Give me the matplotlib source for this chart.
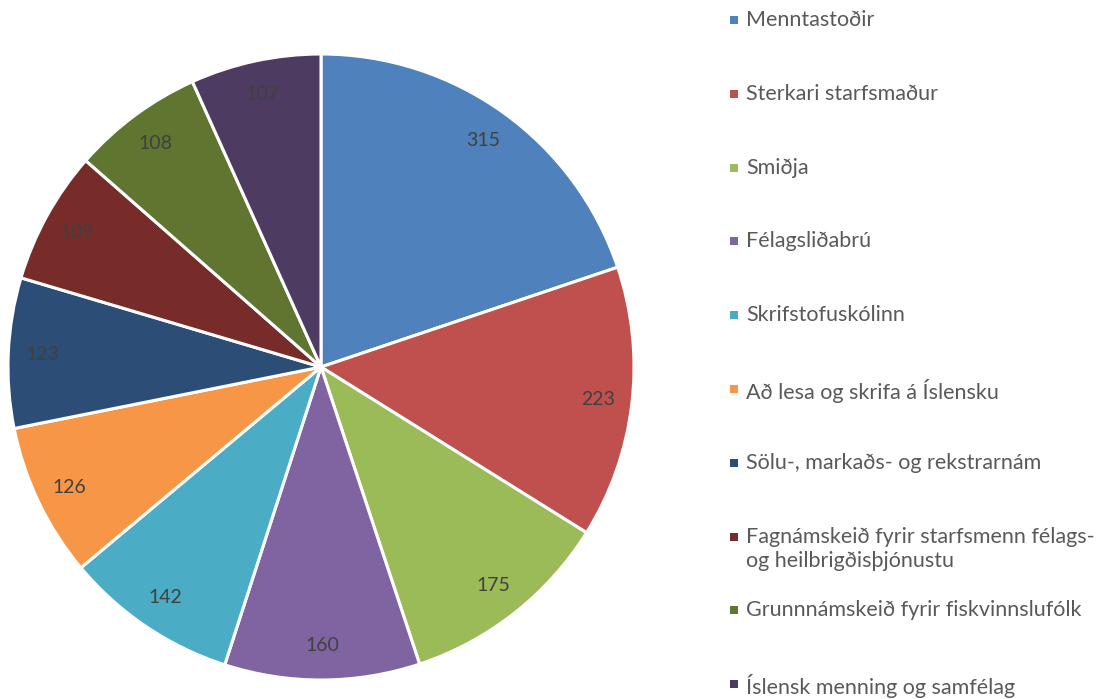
import matplotlib

matplotlib.use("Agg")
import matplotlib.pyplot as plt

plt.rcParams["font.family"] = ["Lato", "DejaVu Sans"]

categories = [
    "Menntastoðir",
    "Sterkari starfsmaður",
    "Smiðja",
    "Félagsliðabrú",
    "Skrifstofuskólinn",
    "Að lesa og skrifa á Íslensku",
    "Sölu-, markaðs- og rekstrarnám",
    "Fagnámskeið fyrir starfsmenn félags-\nog heilbrigðisþjónustu",
    "Grunnnámskeið fyrir fiskvinnslufólk",
    "Íslensk menning og samfélag",
]
values = [315, 223, 175, 160, 142, 126, 123, 109, 108, 107]
colors = ["#4F81BD", "#C0504D", "#9BBB59", "#8064A2", "#4BACC6",
          "#F79646", "#2C4D75", "#772C2A", "#5F7530", "#4D3B62"]

W, H = 1112, 699
fig = plt.figure(figsize=(W / 100, H / 100), dpi=100)

# pie: centre (321, 367) px, radius 313 px
cx, cy, r = 321, 367, 313
ax = fig.add_axes([(cx - r) / W, (H - cy - r) / H, 2 * r / W, 2 * r / H])
total = sum(values)
wedges, _, autotexts = ax.pie(
    values, colors=colors, startangle=90, counterclock=False,
    wedgeprops=dict(edgecolor="white", linewidth=2.2),
    autopct=lambda p: f"{round(p * total / 100)}", pctdistance=0.89,
    textprops=dict(color="#404040", fontsize=14),
)
ax.set_xlim(-1, 1)
ax.set_ylim(-1, 1)
ax.set_aspect("equal")

# legend drawn in pixel coordinates
lax = fig.add_axes([0, 0, 1, 1])
lax.set_xlim(0, W)
lax.set_ylim(H, 0)
lax.axis("off")
for i, (lab, col) in enumerate(zip(categories, colors)):
    y = 20 + i * 73.8
    lax.scatter([734], [y], marker="s", s=34, color=col, linewidths=0)
    lax.text(746, y - 10, lab, va="top", ha="left", fontsize=15.5,
             color="#595959", linespacing=1.25)

fig.savefig("out.png", dpi=100)
